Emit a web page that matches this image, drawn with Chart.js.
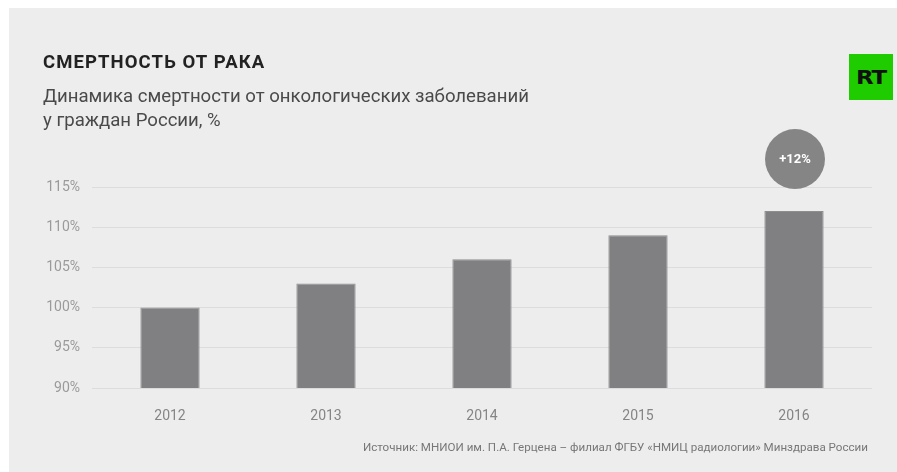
<!DOCTYPE html>
<html lang="ru">
<head>
<meta charset="utf-8">
<script src="https://cdn.jsdelivr.net/npm/chart.js@4/dist/chart.umd.min.js"></script>
<style>
  html, body { margin: 0; padding: 0; background: #ffffff; }
  #wrap { position: relative; width: 897px; height: 472px; overflow: hidden; font-family: Roboto, "Noto Sans", sans-serif; }
  #panel { position: absolute; left: 9px; top: 8px; right: 0; bottom: 0; background: #ededed; }
  #chart { position: absolute; left: 0; top: 0; }
  .title { position: absolute; left: 43px; top: 51px; font-size: 18.5px; font-weight: 700; color: #222; letter-spacing: 1.1px; }
  .subtitle { position: absolute; left: 43px; top: 84px; font-size: 18.6px; line-height: 24px; color: #4a4a4a; }
  .logo { position: absolute; left: 849px; top: 54px; width: 44px; height: 46px; background: #1fcc00;
          font-family: "DejaVu Sans", sans-serif; font-weight: 900; font-size: 20px; color: #111;
          display: flex; align-items: center; justify-content: center; letter-spacing: -1px; }
  .logo span { display: inline-block; transform: scaleX(1.15); }
  .source { position: absolute; right: 29px; top: 440px; font-size: 11.6px; color: #777; white-space: nowrap; }
</style>
</head>
<body>
<div id="wrap">
  <div id="panel"></div>
  <canvas id="chart" width="897" height="472"></canvas>
  <div class="title">СМЕРТНОСТЬ ОТ РАКА</div>
  <div class="subtitle">Динамика смертности от онкологических заболеваний<br>у граждан России, %</div>
  <div class="logo"><span>RT</span></div>
  <div class="source">Источник: МНИОИ им. П.А. Герцена – филиал ФГБУ «НМИЦ радиологии» Минздрава России</div>
</div>
<script>
// Mortality index by year, 2012 = 100%
const years = ['2012', '2013', '2014', '2015', '2016'];
const mortality = [100, 103, 106, 109, 112];
const yTicks = [90, 95, 100, 105, 110, 115];

// Badge above the last bar showing the change since the first year
const changeBadge = {
  id: 'changeBadge',
  afterDatasetsDraw(chart) {
    const meta = chart.getDatasetMeta(0);
    const last = meta.data[meta.data.length - 1];
    const diff = mortality[mortality.length - 1] - mortality[0];
    const ctx = chart.ctx;
    const cx = last.x + 1;
    const cy = last.y - 52;
    ctx.save();
    ctx.beginPath();
    ctx.arc(cx, cy, 30, 0, Math.PI * 2);
    ctx.fillStyle = '#858585';
    ctx.fill();
    ctx.fillStyle = '#ffffff';
    ctx.font = '700 13px Roboto, sans-serif';
    ctx.textAlign = 'center';
    ctx.textBaseline = 'middle';
    ctx.fillText((diff >= 0 ? '+' : '') + diff + '%', cx, cy + 1);
    ctx.restore();
  }
};

new Chart(document.getElementById('chart'), {
  type: 'bar',
  data: {
    labels: years,
    datasets: [{
      data: mortality,
      backgroundColor: '#808083',
      borderColor: '#8e8e90',
      borderWidth: 1,
      barPercentage: 0.38,
      categoryPercentage: 1.0
    }]
  },
  options: {
    responsive: false,
    animation: false,
    layout: { padding: { top: 187, right: 25, left: 0, bottom: 0 } },
    plugins: { legend: { display: false }, tooltip: { enabled: false } },
    scales: {
      x: {
        grid: { display: false },
        border: { display: false },
        ticks: { color: '#858585', font: { family: 'Roboto', size: 14 }, padding: 12 },
        afterFit(scale) { scale.height = 84; }
      },
      y: {
        min: 90,
        max: 115,
        afterBuildTicks(scale) { scale.ticks = yTicks.map(v => ({ value: v })); },
        grid: { color: '#dcdcdc', lineWidth: 1, drawTicks: false },
        border: { display: false },
        ticks: {
          color: '#9a9a9a',
          font: { family: 'Roboto', size: 14 },
          padding: 12,
          callback: v => v + '%'
        },
        afterFit(scale) { scale.width = 92; }
      }
    }
  },
  plugins: [changeBadge]
});
</script>
</body>
</html>
